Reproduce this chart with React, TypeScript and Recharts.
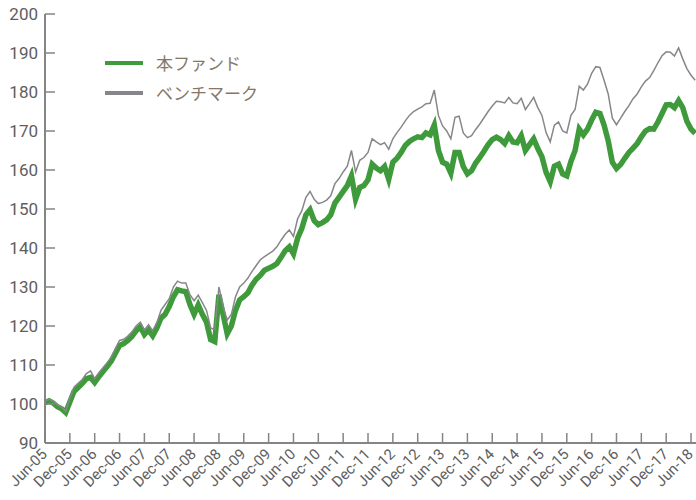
import { Line, LineChart, XAxis, YAxis } from "recharts";

// half-year tick labels, Jun-05 .. Jun-18 (one every 6 months)
const tickLabels = [
  "Jun-05", "Dec-05", "Jun-06", "Dec-06", "Jun-07", "Dec-07", "Jun-08",
  "Dec-08", "Jun-09", "Dec-09", "Jun-10", "Dec-10", "Jun-11", "Dec-11",
  "Jun-12", "Dec-12", "Jun-13", "Dec-13", "Jun-14", "Dec-14", "Jun-15",
  "Dec-15", "Jun-16", "Dec-16", "Jun-17", "Dec-17", "Jun-18",
];

const yTicks = [90, 100, 110, 120, 130, 140, 150, 160, 170, 180, 190, 200];

// monthly values, Jun-05 .. Jul-18
const fundValues = [
  100.3, 100.8, 100.2, 99.3, 98.8, 97.8, 100.5, 103.2, 104.2, 105.3,
  106.5, 106.8, 105.5, 107.0, 108.3, 109.6, 111.0, 113.0, 115.0, 115.5,
  116.3, 117.3, 118.8, 119.8, 117.8, 119.0, 117.5, 119.5, 122.0, 123.0,
  125.0, 127.5, 129.3, 129.0, 128.8, 125.5, 123.0, 125.4, 123.0, 121.0,
  116.5, 116.0, 128.0, 123.0, 118.0, 120.0, 124.0, 126.7, 127.5, 128.5,
  130.5, 132.0, 133.0, 134.3, 134.8, 135.3, 136.0, 137.6, 139.3, 140.3,
  138.5, 142.5, 145.0, 148.5, 149.8, 147.0, 146.0, 146.5, 147.2, 148.5,
  151.5, 153.0, 154.5, 156.0, 158.5, 152.5, 155.5, 156.0, 157.5, 161.5,
  160.5, 159.8, 160.9, 157.6, 162.0, 163.0, 164.5, 166.3, 167.3, 168.0,
  168.5, 168.3, 169.5, 169.0, 171.5, 165.0, 162.0, 161.5, 159.2, 164.5,
  164.5, 160.9, 159.0, 159.8, 161.8, 163.2, 164.8, 166.5, 167.8, 168.4,
  167.8, 166.8, 168.8, 167.2, 167.0, 168.8, 165.0, 166.5, 168.0, 165.5,
  163.4, 159.4, 157.0, 161.0, 161.5, 159.0, 158.5, 162.2, 165.0, 170.5,
  169.0, 170.5, 172.8, 174.8, 174.5, 171.5, 167.5, 162.0, 160.4, 161.4,
  163.0, 164.5, 165.6, 166.8, 168.5, 170.0, 170.6, 170.5, 172.3, 174.5,
  176.7, 176.8, 176.0, 177.8, 176.0, 172.5, 170.5, 169.4,
];

const benchValues = [
  100.8, 101.2, 100.8, 99.8, 99.2, 98.2, 101.5, 104.3, 105.3, 106.3,
  107.8, 108.5, 106.5, 108.0, 109.3, 110.6, 112.0, 114.2, 116.3, 116.6,
  117.4, 118.5, 120.0, 121.0, 119.0, 120.3, 118.8, 120.8, 124.0, 125.5,
  127.0, 130.0, 131.5, 131.0, 131.0, 128.0, 126.5, 127.9, 126.0, 124.0,
  119.5, 119.0, 130.0, 125.0, 121.5, 123.0, 127.5, 130.0, 131.0, 132.3,
  134.0, 135.5, 137.0, 137.8, 138.5, 139.2, 140.3, 142.0, 143.5, 144.6,
  143.0, 147.5, 149.5, 153.0, 154.5, 152.5, 151.4, 151.7, 152.3, 153.4,
  156.5, 157.8, 159.5, 161.0, 165.0, 159.5, 162.5, 163.2, 164.5, 168.0,
  167.2, 166.5, 167.0, 165.3, 168.0, 169.6, 171.0, 172.6, 174.0, 175.0,
  175.6, 176.2, 177.0, 177.1, 180.5, 174.0, 171.3, 170.0, 168.0, 173.5,
  173.8, 169.5, 168.3, 168.8, 170.4, 171.8, 173.4, 175.0, 176.4, 177.6,
  177.5, 177.2, 178.6, 177.2, 177.0, 178.4, 175.5, 177.0, 178.6, 176.0,
  174.0, 169.6, 167.2, 171.5, 172.3, 170.0, 169.5, 174.0, 175.5, 181.5,
  180.5, 182.0, 184.8, 186.5, 186.3, 183.0, 179.5, 173.3, 171.6, 173.3,
  175.0, 176.5, 178.3, 179.5, 181.3, 182.8, 183.7, 185.5, 187.5, 189.3,
  190.3, 190.2, 189.2, 191.3, 188.5, 186.0, 184.3, 183.0,
];

const data = fundValues.map((fund, i) => ({
  m: i,
  fund,
  bench: benchValues[i],
}));

const xTicks = tickLabels.map((_, i) => i * 6);

const AXIS = "#858585";
const LABEL = "#5e5e5e";
const FONT = "Roboto, 'Noto Sans', sans-serif";
const GREEN = "#3f9a3b";
const GREY = "#87878b";

function YTick(props: any) {
  const { x, y, payload } = props;
  return (
    <g>
      <line x1={x} y1={y} x2={x + 10} y2={y} stroke={AXIS} strokeWidth={1.5} />
      <text
        x={x - 7}
        y={y}
        dy={6}
        textAnchor="end"
        fill={LABEL}
        fontSize={17}
        fontFamily={FONT}
      >
        {payload.value}
      </text>
    </g>
  );
}

function XTick(props: any) {
  const { x, y, payload } = props;
  const label = tickLabels[Math.round(payload.value / 6)] ?? "";
  return (
    <g>
      <line x1={x} y1={y} x2={x} y2={y - 10} stroke={AXIS} strokeWidth={1.5} />
      <text
        transform={`translate(${x + 3},${y + 12}) rotate(-45)`}
        textAnchor="end"
        fill={LABEL}
        fontSize={15}
        fontFamily={FONT}
      >
        {label}
      </text>
    </g>
  );
}

export default function App() {
  return (
    <div
      style={{
        position: "absolute",
        left: 0,
        top: 0,
        width: 696,
        height: 500,
        background: "#fff",
      }}
    >
      <LineChart
        width={696}
        height={500}
        data={data}
        margin={{ top: 14, right: 0, bottom: 0, left: 0 }}
      >
        <XAxis
          dataKey="m"
          type="number"
          domain={[0, 157.2]}
          ticks={xTicks}
          interval={0}
          height={57}
          tickSize={0}
          tickMargin={0}
          tickLine={false}
          axisLine={{ stroke: AXIS, strokeWidth: 2 }}
          tick={<XTick />}
        />
        <YAxis
          type="number"
          domain={[90, 200]}
          ticks={yTicks}
          interval={0}
          width={45}
          tickSize={0}
          tickMargin={0}
          tickLine={false}
          axisLine={{ stroke: AXIS, strokeWidth: 2 }}
          tick={<YTick />}
        />
        <Line
          dataKey="fund"
          type="linear"
          stroke={GREEN}
          strokeWidth={5.5}
          dot={false}
          isAnimationActive={false}
        />
        <Line
          dataKey="bench"
          type="linear"
          stroke={GREY}
          strokeWidth={1.5}
          dot={false}
          isAnimationActive={false}
        />
      </LineChart>

      <div
        style={{
          position: "absolute",
          left: 105,
          top: 48,
          fontFamily: "'Noto Sans CJK JP', sans-serif",
          fontSize: 17,
          color: "#857869",
          lineHeight: "30px",
        }}
      >
        {[
          { name: "本ファンド", color: GREEN },
          { name: "ベンチマーク", color: GREY },
        ].map((item) => (
          <div key={item.name} style={{ display: "flex", alignItems: "center", height: 30 }}>
            <span
              style={{
                display: "inline-block",
                width: 38,
                height: 4,
                background: item.color,
                marginRight: 13,
              }}
            />
            <span>{item.name}</span>
          </div>
        ))}
      </div>
    </div>
  );
}
